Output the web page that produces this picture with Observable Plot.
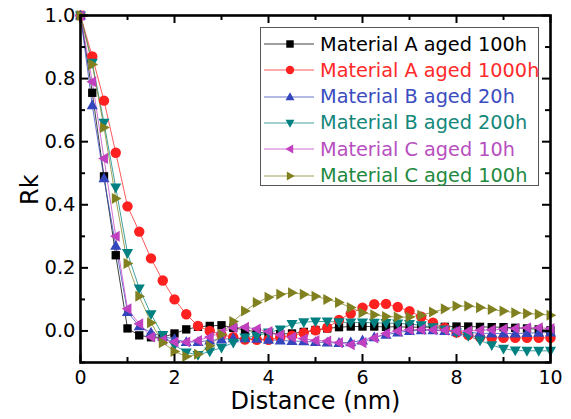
<!DOCTYPE html>
<html>
<head>
<meta charset="utf-8">
<script src="https://cdn.jsdelivr.net/npm/d3@7"></script>
<script src="https://cdn.jsdelivr.net/npm/@observablehq/plot@0.6"></script>
<style>
  body { margin: 0; background: #fff; }
  #wrap { position: relative; width: 571px; height: 419px; font-family: "DejaVu Sans", sans-serif; }
  #legend { position: absolute; left: 260px; top: 27px; width: 279px; height: 159px; border: 1px solid #555; background: #fff; box-sizing: border-box; padding-top: 3px; }
  .row { display: flex; align-items: center; height: 26.3px; }
  .row svg { flex: none; margin-left: 2px; }
  .row span { font-size: 19.3px; margin-left: 6px; white-space: nowrap; line-height: 1; }
</style>
</head>
<body>
<div id="wrap"></div>
<script>
// ---- data ----
const distance = [0, 0.25, 0.5, 0.75, 1, 1.25, 1.5, 1.75, 2, 2.25, 2.5, 2.75, 3, 3.25, 3.5, 3.75, 4, 4.25, 4.5, 4.75, 5, 5.25, 5.5, 5.75, 6, 6.25, 6.5, 6.75, 7, 7.25, 7.5, 7.75, 8, 8.25, 8.5, 8.75, 9, 9.25, 9.5, 9.75, 10];

const seriesNames = ["Material A aged 100h", "Material A aged 1000h", "Material B aged 20h", "Material B aged 200h", "Material C aged 10h", "Material C aged 100h"];

const rkA100 = [1.0, 0.755, 0.49, 0.24, 0.008, -0.014, -0.02, -0.02, -0.008, 0.005, 0.013, 0.016, 0.018, 0.01, 0.003, -0.003, -0.008, -0.01, -0.008, -0.003, 0.003, 0.008, 0.012, 0.014, 0.014, 0.014, 0.013, 0.013, 0.012, 0.012, 0.012, 0.013, 0.014, 0.014, 0.013, 0.012, 0.012, 0.01, 0.008, 0.005, 0.002];
const rkA1000 = [1.0, 0.87, 0.73, 0.565, 0.395, 0.315, 0.23, 0.16, 0.10, 0.053, 0.016, 0.0, -0.012, -0.02, -0.027, -0.028, -0.028, -0.02, -0.015, -0.006, 0.002, 0.01, 0.035, 0.055, 0.074, 0.085, 0.086, 0.076, 0.063, 0.045, 0.026, 0.01, -0.005, -0.013, -0.02, -0.022, -0.022, -0.022, -0.022, -0.022, -0.022];
const rkB20 = [1.0, 0.715, 0.484, 0.27, 0.06, 0.015, -0.005, -0.018, -0.026, -0.035, -0.035, -0.03, -0.027, -0.023, -0.023, -0.025, -0.028, -0.03, -0.032, -0.033, -0.035, -0.037, -0.038, -0.036, -0.03, -0.02, -0.012, -0.005, 0.0, 0.002, 0.002, 0.0, -0.003, -0.005, -0.007, -0.008, -0.008, -0.008, -0.007, -0.006, -0.005];
const rkB200 = [1.0, 0.85, 0.66, 0.455, 0.247, 0.135, 0.053, -0.013, -0.045, -0.068, -0.076, -0.065, -0.053, -0.037, -0.021, -0.016, -0.005, 0.005, 0.022, 0.028, 0.03, 0.03, 0.028, 0.027, 0.027, 0.026, 0.025, 0.024, 0.022, 0.018, 0.012, 0.005, -0.005, -0.016, -0.03, -0.045, -0.056, -0.062, -0.063, -0.063, -0.063];
const rkC10 = [1.0, 0.79, 0.547, 0.30, 0.07, 0.023, -0.019, -0.028, -0.035, -0.035, -0.03, -0.019, -0.005, 0.01, 0.012, 0.006, -0.002, -0.012, -0.02, -0.025, -0.03, -0.032, -0.037, -0.044, -0.037, -0.022, -0.008, 0.0, 0.004, 0.005, 0.004, 0.002, 0.0, 0.0, 0.002, 0.004, 0.006, 0.008, 0.01, 0.01, 0.008];
const rkC100 = [1.0, 0.845, 0.645, 0.42, 0.214, 0.11, 0.026, -0.037, -0.065, -0.081, -0.074, -0.047, -0.011, 0.03, 0.063, 0.09, 0.107, 0.116, 0.121, 0.116, 0.11, 0.1, 0.09, 0.074, 0.058, 0.051, 0.046, 0.044, 0.044, 0.05, 0.06, 0.07, 0.079, 0.079, 0.074, 0.068, 0.063, 0.058, 0.055, 0.053, 0.05];

const xTickLabels = [0, 2, 4, 6, 8, 10];
const xMinorTicks = [1, 3, 5, 7, 9];
const yTickLabels = [0.0, 0.2, 0.4, 0.6, 0.8, 1.0];
const yMinorTicks = [-0.1, 0.1, 0.3, 0.5, 0.7, 0.9];

// ---- styles ----
const lineColors = ["#000000", "#ff2020", "#3346bb", "#008080", "#c040c0", "#808020"];
const textColors = ["#000000", "#ff2a2a", "#3b4cc0", "#13877a", "#b84fbf", "#1f8a3f"];

function triangle(rotDeg) {
  const t = rotDeg * Math.PI / 180, c = Math.cos(t), s = Math.sin(t);
  return {
    draw(ctx, size) {
      const r = Math.sqrt(size / Math.PI) * 1.12;
      const pts = [[0, -r], [r * 0.95, r * 0.68], [-r * 0.95, r * 0.68]].map(([x, y]) => [x * c - y * s, x * s + y * c]);
      ctx.moveTo(pts[0][0], pts[0][1]);
      ctx.lineTo(pts[1][0], pts[1][1]);
      ctx.lineTo(pts[2][0], pts[2][1]);
      ctx.closePath();
    }
  };
}
const symbols = [d3.symbolSquare, d3.symbolCircle, triangle(0), triangle(180), triangle(270), triangle(90)];
const dotR = [4.7, 5.2, 5.2, 5.2, 5.2, 5.2];

const allSeries = [rkA100, rkA1000, rkB20, rkB200, rkC10, rkC100];
const rows = [];
allSeries.forEach((vals, i) => vals.forEach((v, j) => rows.push({series: seriesNames[i], idx: i, distance: distance[j], rk: v})));

const W = 571, H = 419, mL = 80, mR = 21, mT = 15, mB = 57;
const iw = W - mL - mR, ih = H - mT - mB;

const marks = [];
allSeries.forEach((vals, i) => {
  const d = rows.filter(r => r.idx === i);
  marks.push(Plot.line(d, {x: "distance", y: "rk", stroke: lineColors[i], strokeWidth: 1, strokeOpacity: 0.75}));
});
allSeries.forEach((vals, i) => {
  const d = rows.filter(r => r.idx === i);
  marks.push(Plot.dot(d, {x: "distance", y: "rk", symbol: symbols[i], r: dotR[i], fill: lineColors[i], stroke: "none"}));
});

// inward tick marks
const tw = 2;
marks.push(
  Plot.tickX(xTickLabels, {x: d => d, insetTop: ih - 8, stroke: "black", strokeWidth: tw}),
  Plot.tickX(xTickLabels, {x: d => d, insetBottom: ih - 8, stroke: "black", strokeWidth: tw}),
  Plot.tickX(xMinorTicks, {x: d => d, insetTop: ih - 5, stroke: "black", strokeWidth: tw}),
  Plot.tickX(xMinorTicks, {x: d => d, insetBottom: ih - 5, stroke: "black", strokeWidth: tw}),
  Plot.tickY(yTickLabels, {y: d => d, insetRight: iw - 8, stroke: "black", strokeWidth: tw}),
  Plot.tickY(yTickLabels, {y: d => d, insetLeft: iw - 8, stroke: "black", strokeWidth: tw}),
  Plot.tickY(yMinorTicks, {y: d => d, insetRight: iw - 5, stroke: "black", strokeWidth: tw}),
  Plot.tickY(yMinorTicks, {y: d => d, insetLeft: iw - 5, stroke: "black", strokeWidth: tw}),
  Plot.frame({stroke: "black", strokeWidth: 2.6}),
  Plot.axisX({ticks: xTickLabels, tickSize: 0, tickPadding: 8, fontSize: 19, label: null, tickFormat: d => String(d)}),
  Plot.axisY({ticks: yTickLabels, tickSize: 0, tickPadding: 5, fontSize: 19.5, label: null, tickFormat: d3.format(".1f")}),
  Plot.text(["Distance (nm)"], {frameAnchor: "bottom", dy: 46, fontSize: 24, fill: "black"}),
  Plot.text(["Rk"], {frameAnchor: "left", dx: -50, dy: 16, rotate: -90, fontSize: 24, fill: "black"})
);

const chart = Plot.plot({
  width: W, height: H,
  marginLeft: mL, marginRight: mR, marginTop: mT, marginBottom: mB,
  x: {domain: [0, 10]},
  y: {domain: [-0.1, 1.0]},
  style: {fontFamily: "DejaVu Sans, sans-serif", color: "black", background: "white", overflow: "visible"},
  marks
});

const wrap = document.getElementById("wrap");
wrap.appendChild(chart);

// legend
const legend = document.createElement("div");
legend.id = "legend";
seriesNames.forEach((name, i) => {
  const row = document.createElement("div");
  row.className = "row";
  const svg = d3.create("svg").attr("width", 51).attr("height", 20);
  svg.append("line").attr("x1", 1).attr("x2", 51).attr("y1", 10).attr("y2", 10).attr("stroke", lineColors[i]).attr("stroke-opacity", 0.75).attr("stroke-width", 1);
  svg.append("path").attr("transform", "translate(27,10)").attr("d", d3.symbol().type(symbols[i]).size(Math.PI * 4.2 * 4.2)()).attr("fill", lineColors[i]);
  row.appendChild(svg.node());
  const span = document.createElement("span");
  span.textContent = name;
  span.style.color = textColors[i];
  row.appendChild(span);
  legend.appendChild(row);
});
wrap.appendChild(legend);
</script>
</body>
</html>
